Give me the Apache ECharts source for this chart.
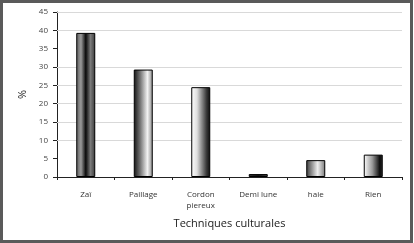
<!DOCTYPE html>
<html>
<head>
<meta charset="utf-8">
<script src="https://cdn.jsdelivr.net/npm/echarts@6/dist/echarts.min.js"></script>
<style>
html,body{margin:0;padding:0;background:#fff;}
#chart{width:414px;height:243px;}
</style>
</head>
<body>
<div id="chart"></div>
<script>
var categories = ['Zaï', 'Paillage', 'Cordon\npiereux', 'Demi lune', 'haie', 'Rien'];
var values = [39.3, 29.3, 24.5, 0.8, 4.6, 6.1];
var yTicks = [0, 5, 10, 15, 20, 25, 30, 35, 40, 45];
var gridValues = [10, 15, 20, 25, 30, 40, 45];

function grad(stops) {
  return new echarts.graphic.LinearGradient(0, 0, 1, 0, stops.map(function (s) { return { offset: s[0], color: s[1] }; }));
}
var fills = [
  grad([[0, '#5a5a5a'], [0.25, '#9a9a9a'], [0.5, '#0a0a0a'], [0.75, '#7a7a7a'], [1, '#3a3a3a']]),
  grad([[0, '#111'], [0.35, '#777'], [0.72, '#f2f2f2'], [1, '#8a8a8a']]),
  grad([[0, '#ffffff'], [0.3, '#e0e0e0'], [0.8, '#3a3a3a'], [1, '#0a0a0a']]),
  grad([[0, '#333'], [0.5, '#111'], [1, '#444']]),
  grad([[0, '#3a3a3a'], [0.6, '#eeeeee'], [1, '#777']]),
  grad([[0, '#ffffff'], [0.45, '#999'], [0.85, '#0a0a0a'], [1, '#333']])
];

var chart = echarts.init(document.getElementById('chart'));
chart.setOption({
  animation: false,
  textStyle: { fontFamily: 'Open Sans' },
  graphic: [{
    type: 'rect', silent: true, z: 100,
    shape: { x: 1.5, y: 1.5, width: 410, height: 240 },
    style: { fill: 'none', stroke: '#5a5a5a', lineWidth: 3 }
  }],
  grid: { left: 57, right: 12, top: 12, bottom: 66 },
  xAxis: {
    type: 'category',
    data: categories,
    name: 'Techniques culturales',
    nameLocation: 'middle',
    nameGap: 41,
    nameTextStyle: { fontSize: 11, color: '#222' },
    axisLine: { lineStyle: { color: '#222', width: 1 } },
    axisTick: { show: true, alignWithLabel: false, length: 3, lineStyle: { color: '#222' } },
    axisLabel: { fontSize: 8, color: '#333', margin: 12, lineHeight: 11, interval: 0 }
  },
  yAxis: {
    type: 'value',
    min: 0, max: 45, interval: 5,
    name: '%',
    nameLocation: 'middle',
    nameGap: 28,
    nameRotate: 90,
    nameTextStyle: { fontSize: 11, color: '#222' },
    axisLine: { show: true, lineStyle: { color: '#222' } },
    axisTick: { show: true, inside: false, length: 4, lineStyle: { color: '#222' } },
    axisLabel: {
      fontSize: 8, color: '#444', margin: 9,
      formatter: function (v) { return yTicks.indexOf(v) >= 0 ? String(v) : ''; }
    },
    splitLine: { show: false }
  },
  series: [{
    type: 'bar',
    barWidth: 19,
    z: 3,
    data: values.map(function (v, i) {
      return { value: v, itemStyle: { color: fills[i], borderColor: '#000', borderWidth: 1 } };
    }),
    markLine: {
      z: 1,
      silent: true,
      symbol: ['none', 'none'],
      label: { show: false },
      lineStyle: { color: '#d9d9d9', width: 1, type: 'solid' },
      emphasis: { disabled: true },
      animation: false,
      data: gridValues.map(function (v) { return { yAxis: v }; })
    }
  }]
});
</script>
</body>
</html>
